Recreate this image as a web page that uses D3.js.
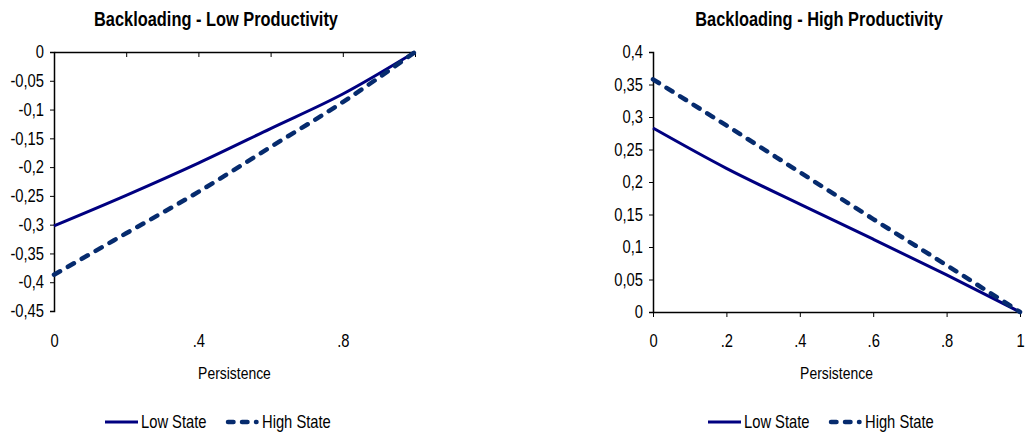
<!DOCTYPE html>
<html><head><meta charset="utf-8">
<script src="https://cdn.jsdelivr.net/npm/d3@7"></script>
<style>html,body{margin:0;padding:0;background:#fff;}svg{display:block;}</style>
</head><body>
<svg id="chart" width="1029" height="438"></svg>
<script>
// ---- data ----
const persistence = [0, 0.2, 0.4, 0.6, 0.8, 1];
const lowProdLowState  = [-0.302, -0.249, -0.193, -0.133, -0.073, 0];
const lowProdHighState = [-0.387, -0.315, -0.243, -0.165, -0.087, 0];
const highProdLowState  = [0.283, 0.221, 0.166, 0.112, 0.057, 0];
const highProdHighState = [0.358, 0.287, 0.215, 0.143, 0.072, 0];
const leftYTicks  = [0, -0.05, -0.1, -0.15, -0.2, -0.25, -0.3, -0.35, -0.4, -0.45];
const rightYTicks = [0, 0.05, 0.1, 0.15, 0.2, 0.25, 0.3, 0.35, 0.4];
const leftXLabels  = [0, 0.4, 0.8];
const rightXLabels = [0, 0.2, 0.4, 0.6, 0.8, 1];
const seriesNames = ["Low State", "High State"];
const titles = ["Backloading - Low Productivity", "Backloading - High Productivity"];
const xTitle = "Persistence";

const svg = d3.select("#chart");
const FONT = "'Liberation Sans Narrow','Arial Narrow','Liberation Sans',Arial,sans-serif";
const solidColor = "#000080", dashColor = "#062b6e";

const loc = d3.formatLocale({decimal: ",", thousands: ".", grouping: [3], currency: ["", ""], minus: "-"});
const yFmt = loc.format("~g");
const xFmt = v => v === 0 ? "0" : v === 1 ? "1" : "." + Math.round(v * 10);

function panel(cfg) {
  const x = d3.scaleLinear().domain([0, 1]).range([cfg.x0, cfg.x1]);
  const y = d3.scaleLinear().domain(cfg.yDomain).range([cfg.yBottom, cfg.yTop]);
  const g = svg.append("g");

  // title
  g.append("text").attr("x", cfg.titleX).attr("y", 26).attr("text-anchor", "middle")
    .attr("font-family", FONT).attr("font-weight", "bold").attr("font-size", 20).attr("fill", "#000")
    .text(cfg.title);

  // y axis
  const ya = g.append("g").attr("transform", `translate(${cfg.x0},0)`)
    .call(d3.axisLeft(y).tickValues(cfg.yTicks).tickSize(4).tickPadding(6).tickFormat(yFmt));
  ya.selectAll("text").attr("font-family", FONT).attr("font-size", 18).attr("fill", "#000");
  ya.selectAll("line").attr("stroke", "#000");
  ya.select(".domain").attr("stroke", "#000").attr("stroke-width", 1.5);

  // x axis line with inward ticks (no labels)
  const xa = g.append("g").attr("transform", `translate(0,${y(cfg.xAxisAt)})`)
    .call(d3.axisBottom(x).tickValues(persistence).tickSize(cfg.xTickDir * 5).tickSizeOuter(0).tickFormat(""));
  xa.selectAll("line").attr("stroke", "#000");
  xa.select(".domain").attr("stroke", "#000").attr("stroke-width", 1.5);

  // x labels at bottom
  const xl = g.append("g").attr("transform", `translate(0,334)`)
    .call(d3.axisBottom(x).tickValues(cfg.xLabels).tickSize(0).tickPadding(0).tickFormat(xFmt));
  xl.select(".domain").remove();
  xl.selectAll("text").attr("font-family", FONT).attr("font-size", 18).attr("fill", "#000");

  // x title
  g.append("text").attr("x", (cfg.x0 + cfg.x1) / 2).attr("y", 379).attr("text-anchor", "middle")
    .attr("font-family", FONT).attr("font-size", 17).attr("fill", "#000").text(xTitle);

  // lines
  const line = d3.line().x((d, i) => x(persistence[i])).y(d => y(d)).curve(d3.curveMonotoneX);
  g.append("path").datum(cfg.low).attr("d", line).attr("fill", "none")
    .attr("stroke", solidColor).attr("stroke-width", 3).attr("stroke-linejoin", "round");
  g.append("path").datum(cfg.high).attr("d", line).attr("fill", "none")
    .attr("stroke", dashColor).attr("stroke-width", 4.5).attr("stroke-dasharray", "7,9")
    .attr("stroke-linecap", "round").attr("stroke-linejoin", "round");

  // legend
  const ly = 422;
  const lg = g.append("g");
  lg.append("line").attr("x1", cfg.legX).attr("x2", cfg.legX + 33).attr("y1", ly).attr("y2", ly)
    .attr("stroke", solidColor).attr("stroke-width", 3);
  lg.append("text").attr("x", cfg.legX + 36).attr("y", ly + 6.5).attr("font-family", FONT)
    .attr("font-size", 18).attr("fill", "#000").text(seriesNames[0]);
  lg.append("line").attr("x1", cfg.legX + 123).attr("x2", cfg.legX + 151.5).attr("y1", ly).attr("y2", ly)
    .attr("stroke", dashColor).attr("stroke-width", 4.5).attr("stroke-dasharray", "5.5,8.5")
    .attr("stroke-linecap", "round");
  lg.append("text").attr("x", cfg.legX + 157).attr("y", ly + 6.5).attr("font-family", FONT)
    .attr("font-size", 18).attr("fill", "#000").text(seriesNames[1]);
}

panel({title: titles[0], titleX: 216, x0: 54, x1: 415, yDomain: [-0.45, 0], yBottom: 311, yTop: 52,
  yTicks: leftYTicks, xAxisAt: 0, xTickDir: 1, xLabels: leftXLabels,
  low: lowProdLowState, high: lowProdHighState, legX: 105});
panel({title: titles[1], titleX: 819, x0: 653, x1: 1020, yDomain: [0, 0.4], yBottom: 312, yTop: 52,
  yTicks: rightYTicks, xAxisAt: 0, xTickDir: 1, xLabels: rightXLabels,
  low: highProdLowState, high: highProdHighState, legX: 708});

// narrow-font fallback: if no narrow face is installed, condense the regular face
(function () {
  const t1 = svg.append("text").attr("font-family", "'Liberation Sans Narrow'").attr("font-size", 20).text("Backloading Productivity");
  const t2 = svg.append("text").attr("font-family", "'Liberation Sans'").attr("font-size", 20).text("Backloading Productivity");
  const ratio = t1.node().getComputedTextLength() / t2.node().getComputedTextLength();
  t1.remove(); t2.remove();
  if (!(ratio < 0.9)) {
    svg.selectAll("text").each(function () {
      const el = d3.select(this);
      el.attr("font-family", "'Liberation Sans',Arial,sans-serif");
      const x = +(el.attr("x") || 0);
      el.attr("transform", `translate(${x},0) scale(0.82,1) translate(${-x},0)`);
    });
  }
})();
</script>
</body></html>
